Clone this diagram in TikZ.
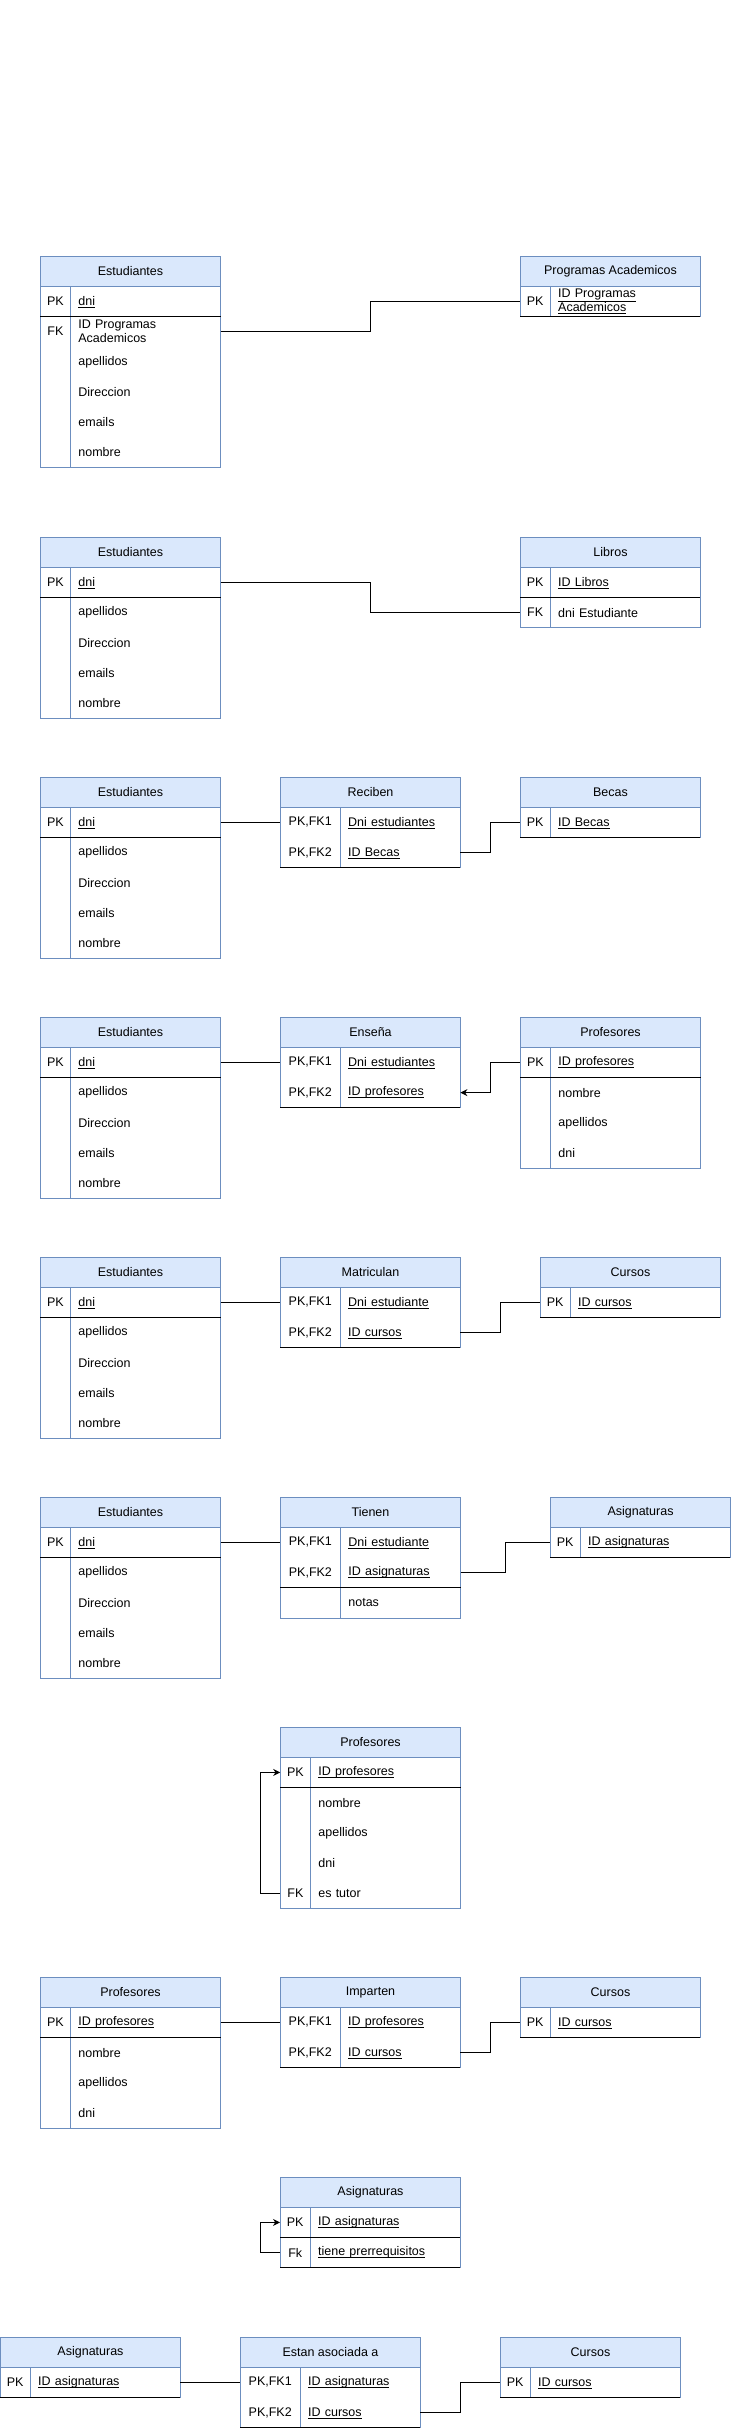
\documentclass[tikz,border=0pt]{standalone}
\usepackage{fontspec}
\newfontfamily\erfamily{Liberation Sans}
\usetikzlibrary{arrows.meta,calc}

\definecolor{TableEdge}{HTML}{6C8EBF}
\definecolor{TableHead}{HTML}{DAE8FC}
\newcommand{\erfont}{\erfamily\fontsize{12.5}{14}\selectfont}
\newcommand{\erul}[1]{\setbox0=\hbox{#1}\rlap{\smash{\rule[-2.4pt]{\wd0}{0.9pt}}}\box0}

\tikzset{
  ertitle/.style={draw=TableEdge,fill=TableHead,line width=1pt,anchor=north west,minimum width=180pt,minimum height=30pt,inner sep=0pt,font=\erfont},
  errows/.style={column sep=0pt,row sep=0pt,inner sep=0pt,anchor=north west,nodes={font=\erfont}},
  erkey/.style={minimum width=#1,minimum height=30pt,inner sep=0pt},
  erkey/.default=30pt,
  ername/.style={text width=#1,minimum height=30pt,inner xsep=8pt,inner ysep=0pt,align=left},
  ername/.default=134pt,
  erframe/.style={draw=TableEdge,line width=1pt},
  erkeyline/.style={draw=black,line width=1pt},
  erlink/.style={draw=black,line width=1pt},
  erref/.style={erlink,-{Stealth[length=7pt,width=7pt]}},
  elbow/.style={to path={-| ($(\tikztostart)!.5!(\tikztotarget)$) |- (\tikztotarget)}},
}

\begin{document}
\begin{tikzpicture}[x=1pt,y=-1pt]
    \useasboundingbox (0,0) rectangle (732,2428);

    \node[ertitle] (estudA) at (40,256) {Estudiantes};
    \matrix[errows] (estudArows) at (40,286) {
      \node[erkey] (estudAk1) {PK}; & \node[ername] (estudAn1) {\erul{dni}}; \\
      \node[erkey] (estudAk2) {FK}; & \node[ername] (estudAn2) {ID Programas\\Academicos}; \\
      & \node[ername] (estudAn3) {apellidos}; \\
      & \node[ername] (estudAn4) {Direccion}; \\
      & \node[ername] (estudAn5) {emails}; \\
      & \node[ername] (estudAn6) {nombre}; \\
    };
    \node[ertitle] (progA) at (520,256) {Programas Academicos};
    \matrix[errows] (progArows) at (520,286) {
      \node[erkey] (progAk1) {PK}; & \node[ername] (progAn1) {\underline{ID Programas}\\\underline{Academicos}}; \\
    };
    \draw[erframe] (estudA.north west) rectangle (estudArows.south east) (estudAk1.north east) -- (estudAk1.north east |- estudArows.south);
    \draw[erframe] (progA.north west) rectangle (progArows.south east) (progAk1.north east) -- (progAk1.north east |- progArows.south);
    \draw[erkeyline] (estudAk1.south west) -- (estudAn1.south east);
    \draw[erkeyline] (progAk1.south west) -- (progAn1.south east);
    \draw[erlink] (estudAn2.east) to[elbow] (progAk1.west);

    \node[ertitle] (estudB) at (40,537) {Estudiantes};
    \matrix[errows] (estudBrows) at (40,567) {
      \node[erkey] (estudBk1) {PK}; & \node[ername] (estudBn1) {\erul{dni}}; \\
      & \node[ername] (estudBn2) {apellidos}; \\
      & \node[ername] (estudBn3) {Direccion}; \\
      & \node[ername] (estudBn4) {emails}; \\
      & \node[ername] (estudBn5) {nombre}; \\
    };
    \node[ertitle] (libroB) at (520,537) {Libros};
    \matrix[errows] (libroBrows) at (520,567) {
      \node[erkey] (libroBk1) {PK}; & \node[ername] (libroBn1) {\erul{ID Libros}}; \\
      \node[erkey] (libroBk2) {FK}; & \node[ername] (libroBn2) {dni Estudiante}; \\
    };
    \draw[erframe] (estudB.north west) rectangle (estudBrows.south east) (estudBk1.north east) -- (estudBk1.north east |- estudBrows.south);
    \draw[erframe] (libroB.north west) rectangle (libroBrows.south east) (libroBk1.north east) -- (libroBk1.north east |- libroBrows.south);
    \draw[erkeyline] (estudBk1.south west) -- (estudBn1.south east);
    \draw[erkeyline] (libroBk1.south west) -- (libroBn1.south east);
    \draw[erlink] (estudBn1.east) to[elbow] (libroBk2.west);

    \node[ertitle] (estudC) at (40,777) {Estudiantes};
    \matrix[errows] (estudCrows) at (40,807) {
      \node[erkey] (estudCk1) {PK}; & \node[ername] (estudCn1) {\erul{dni}}; \\
      & \node[ername] (estudCn2) {apellidos}; \\
      & \node[ername] (estudCn3) {Direccion}; \\
      & \node[ername] (estudCn4) {emails}; \\
      & \node[ername] (estudCn5) {nombre}; \\
    };
    \node[ertitle] (recibC) at (280,777) {Reciben};
    \matrix[errows] (recibCrows) at (280,807) {
      \node[erkey=60pt] (recibCk1) {PK,FK1}; & \node[ername=104pt] (recibCn1) {\erul{Dni estudiantes}}; \\
      \node[erkey=60pt] (recibCk2) {PK,FK2}; & \node[ername=104pt] (recibCn2) {\erul{ID Becas}}; \\
    };
    \node[ertitle] (becaC) at (520,777) {Becas};
    \matrix[errows] (becaCrows) at (520,807) {
      \node[erkey] (becaCk1) {PK}; & \node[ername] (becaCn1) {\erul{ID Becas}}; \\
    };
    \draw[erframe] (estudC.north west) rectangle (estudCrows.south east) (estudCk1.north east) -- (estudCk1.north east |- estudCrows.south);
    \draw[erframe] (recibC.north west) rectangle (recibCrows.south east) (recibCk1.north east) -- (recibCk1.north east |- recibCrows.south);
    \draw[erframe] (becaC.north west) rectangle (becaCrows.south east) (becaCk1.north east) -- (becaCk1.north east |- becaCrows.south);
    \draw[erkeyline] (estudCk1.south west) -- (estudCn1.south east);
    \draw[erkeyline] (recibCk2.south west) -- (recibCn2.south east);
    \draw[erkeyline] (becaCk1.south west) -- (becaCn1.south east);
    \draw[erlink] (estudCn1.east) -- (recibCk1.west);
    \draw[erlink] (recibCn2.east) to[elbow] (becaCk1.west);

    \node[ertitle] (estudD) at (40,1017) {Estudiantes};
    \matrix[errows] (estudDrows) at (40,1047) {
      \node[erkey] (estudDk1) {PK}; & \node[ername] (estudDn1) {\erul{dni}}; \\
      & \node[ername] (estudDn2) {apellidos}; \\
      & \node[ername] (estudDn3) {Direccion}; \\
      & \node[ername] (estudDn4) {emails}; \\
      & \node[ername] (estudDn5) {nombre}; \\
    };
    \node[ertitle] (ensenD) at (280,1017) {Enseña};
    \matrix[errows] (ensenDrows) at (280,1047) {
      \node[erkey=60pt] (ensenDk1) {PK,FK1}; & \node[ername=104pt] (ensenDn1) {\erul{Dni estudiantes}}; \\
      \node[erkey=60pt] (ensenDk2) {PK,FK2}; & \node[ername=104pt] (ensenDn2) {\erul{ID profesores}}; \\
    };
    \node[ertitle] (profD) at (520,1017) {Profesores};
    \matrix[errows] (profDrows) at (520,1047) {
      \node[erkey] (profDk1) {PK}; & \node[ername] (profDn1) {\erul{ID profesores}}; \\
      & \node[ername] (profDn2) {nombre}; \\
      & \node[ername] (profDn3) {apellidos}; \\
      & \node[ername] (profDn4) {dni}; \\
    };
    \draw[erframe] (estudD.north west) rectangle (estudDrows.south east) (estudDk1.north east) -- (estudDk1.north east |- estudDrows.south);
    \draw[erframe] (ensenD.north west) rectangle (ensenDrows.south east) (ensenDk1.north east) -- (ensenDk1.north east |- ensenDrows.south);
    \draw[erframe] (profD.north west) rectangle (profDrows.south east) (profDk1.north east) -- (profDk1.north east |- profDrows.south);
    \draw[erkeyline] (estudDk1.south west) -- (estudDn1.south east);
    \draw[erkeyline] (ensenDk2.south west) -- (ensenDn2.south east);
    \draw[erkeyline] (profDk1.south west) -- (profDn1.south east);
    \draw[erlink] (estudDn1.east) -- (ensenDk1.west);
    \draw[erref] (profDk1.west) to[elbow] (ensenDn2.east);

    \node[ertitle] (estudE) at (40,1257) {Estudiantes};
    \matrix[errows] (estudErows) at (40,1287) {
      \node[erkey] (estudEk1) {PK}; & \node[ername] (estudEn1) {\erul{dni}}; \\
      & \node[ername] (estudEn2) {apellidos}; \\
      & \node[ername] (estudEn3) {Direccion}; \\
      & \node[ername] (estudEn4) {emails}; \\
      & \node[ername] (estudEn5) {nombre}; \\
    };
    \node[ertitle] (matriE) at (280,1257) {Matriculan};
    \matrix[errows] (matriErows) at (280,1287) {
      \node[erkey=60pt] (matriEk1) {PK,FK1}; & \node[ername=104pt] (matriEn1) {\erul{Dni estudiante}}; \\
      \node[erkey=60pt] (matriEk2) {PK,FK2}; & \node[ername=104pt] (matriEn2) {\erul{ID cursos}}; \\
    };
    \node[ertitle] (cursoE) at (540,1257) {Cursos};
    \matrix[errows] (cursoErows) at (540,1287) {
      \node[erkey] (cursoEk1) {PK}; & \node[ername] (cursoEn1) {\erul{ID cursos}}; \\
    };
    \draw[erframe] (estudE.north west) rectangle (estudErows.south east) (estudEk1.north east) -- (estudEk1.north east |- estudErows.south);
    \draw[erframe] (matriE.north west) rectangle (matriErows.south east) (matriEk1.north east) -- (matriEk1.north east |- matriErows.south);
    \draw[erframe] (cursoE.north west) rectangle (cursoErows.south east) (cursoEk1.north east) -- (cursoEk1.north east |- cursoErows.south);
    \draw[erkeyline] (estudEk1.south west) -- (estudEn1.south east);
    \draw[erkeyline] (matriEk2.south west) -- (matriEn2.south east);
    \draw[erkeyline] (cursoEk1.south west) -- (cursoEn1.south east);
    \draw[erlink] (estudEn1.east) -- (matriEk1.west);
    \draw[erlink] (matriEn2.east) to[elbow] (cursoEk1.west);

    \node[ertitle] (estudF) at (40,1497) {Estudiantes};
    \matrix[errows] (estudFrows) at (40,1527) {
      \node[erkey] (estudFk1) {PK}; & \node[ername] (estudFn1) {\erul{dni}}; \\
      & \node[ername] (estudFn2) {apellidos}; \\
      & \node[ername] (estudFn3) {Direccion}; \\
      & \node[ername] (estudFn4) {emails}; \\
      & \node[ername] (estudFn5) {nombre}; \\
    };
    \node[ertitle] (tieneF) at (280,1497) {Tienen};
    \matrix[errows] (tieneFrows) at (280,1527) {
      \node[erkey=60pt] (tieneFk1) {PK,FK1}; & \node[ername=104pt] (tieneFn1) {\erul{Dni estudiante}}; \\
      \node[erkey=60pt] (tieneFk2) {PK,FK2}; & \node[ername=104pt] (tieneFn2) {\erul{ID asignaturas}}; \\
      & \node[ername=104pt] (tieneFn3) {notas}; \\
    };
    \node[ertitle] (asignF) at (550,1497) {Asignaturas};
    \matrix[errows] (asignFrows) at (550,1527) {
      \node[erkey] (asignFk1) {PK}; & \node[ername] (asignFn1) {\erul{ID asignaturas}}; \\
    };
    \draw[erframe] (estudF.north west) rectangle (estudFrows.south east) (estudFk1.north east) -- (estudFk1.north east |- estudFrows.south);
    \draw[erframe] (tieneF.north west) rectangle (tieneFrows.south east) (tieneFk1.north east) -- (tieneFk1.north east |- tieneFrows.south);
    \draw[erframe] (asignF.north west) rectangle (asignFrows.south east) (asignFk1.north east) -- (asignFk1.north east |- asignFrows.south);
    \draw[erkeyline] (estudFk1.south west) -- (estudFn1.south east);
    \draw[erkeyline] (tieneFk2.south west) -- (tieneFn2.south east);
    \draw[erkeyline] (asignFk1.south west) -- (asignFn1.south east);
    \draw[erlink] (estudFn1.east) -- (tieneFk1.west);
    \draw[erlink] (tieneFn2.east) to[elbow] (asignFk1.west);

    \node[ertitle] (profG) at (280,1727) {Profesores};
    \matrix[errows] (profGrows) at (280,1757) {
      \node[erkey] (profGk1) {PK}; & \node[ername] (profGn1) {\erul{ID profesores}}; \\
      & \node[ername] (profGn2) {nombre}; \\
      & \node[ername] (profGn3) {apellidos}; \\
      & \node[ername] (profGn4) {dni}; \\
      \node[erkey] (profGk5) {FK}; & \node[ername] (profGn5) {es tutor}; \\
    };
    \draw[erframe] (profG.north west) rectangle (profGrows.south east) (profGk1.north east) -- (profGk1.north east |- profGrows.south);
    \draw[erkeyline] (profGk1.south west) -- (profGn1.south east);
    \draw[erref] (profGk5.west) -- ++(-20,0) |- (profGk1.west);

    \node[ertitle] (profH) at (40,1977) {Profesores};
    \matrix[errows] (profHrows) at (40,2007) {
      \node[erkey] (profHk1) {PK}; & \node[ername] (profHn1) {\erul{ID profesores}}; \\
      & \node[ername] (profHn2) {nombre}; \\
      & \node[ername] (profHn3) {apellidos}; \\
      & \node[ername] (profHn4) {dni}; \\
    };
    \node[ertitle] (impaH) at (280,1977) {Imparten};
    \matrix[errows] (impaHrows) at (280,2007) {
      \node[erkey=60pt] (impaHk1) {PK,FK1}; & \node[ername=104pt] (impaHn1) {\erul{ID profesores}}; \\
      \node[erkey=60pt] (impaHk2) {PK,FK2}; & \node[ername=104pt] (impaHn2) {\erul{ID cursos}}; \\
    };
    \node[ertitle] (cursoH) at (520,1977) {Cursos};
    \matrix[errows] (cursoHrows) at (520,2007) {
      \node[erkey] (cursoHk1) {PK}; & \node[ername] (cursoHn1) {\erul{ID cursos}}; \\
    };
    \draw[erframe] (profH.north west) rectangle (profHrows.south east) (profHk1.north east) -- (profHk1.north east |- profHrows.south);
    \draw[erframe] (impaH.north west) rectangle (impaHrows.south east) (impaHk1.north east) -- (impaHk1.north east |- impaHrows.south);
    \draw[erframe] (cursoH.north west) rectangle (cursoHrows.south east) (cursoHk1.north east) -- (cursoHk1.north east |- cursoHrows.south);
    \draw[erkeyline] (profHk1.south west) -- (profHn1.south east);
    \draw[erkeyline] (impaHk2.south west) -- (impaHn2.south east);
    \draw[erkeyline] (cursoHk1.south west) -- (cursoHn1.south east);
    \draw[erlink] (profHn1.east) -- (impaHk1.west);
    \draw[erlink] (impaHn2.east) to[elbow] (cursoHk1.west);

    \node[ertitle] (asignI) at (280,2177) {Asignaturas};
    \matrix[errows] (asignIrows) at (280,2207) {
      \node[erkey] (asignIk1) {PK}; & \node[ername] (asignIn1) {\erul{ID asignaturas}}; \\
      \node[erkey] (asignIk2) {Fk}; & \node[ername] (asignIn2) {\erul{tiene prerrequisitos}}; \\
    };
    \draw[erframe] (asignI.north west) rectangle (asignIrows.south east) (asignIk1.north east) -- (asignIk1.north east |- asignIrows.south);
    \draw[erkeyline] (asignIk1.south west) -- (asignIn1.south east);
    \draw[erkeyline] (asignIk2.south west) -- (asignIn2.south east);
    \draw[erref] (asignIk2.west) -- ++(-20,0) |- (asignIk1.west);

    \node[ertitle] (asignJ) at (0,2337) {Asignaturas};
    \matrix[errows] (asignJrows) at (0,2367) {
      \node[erkey] (asignJk1) {PK}; & \node[ername] (asignJn1) {\erul{ID asignaturas}}; \\
    };
    \node[ertitle] (estanJ) at (240,2337) {Estan asociada a};
    \matrix[errows] (estanJrows) at (240,2367) {
      \node[erkey=60pt] (estanJk1) {PK,FK1}; & \node[ername=104pt] (estanJn1) {\erul{ID asignaturas}}; \\
      \node[erkey=60pt] (estanJk2) {PK,FK2}; & \node[ername=104pt] (estanJn2) {\erul{ID cursos}}; \\
    };
    \node[ertitle] (cursoJ) at (500,2337) {Cursos};
    \matrix[errows] (cursoJrows) at (500,2367) {
      \node[erkey] (cursoJk1) {PK}; & \node[ername] (cursoJn1) {\erul{ID cursos}}; \\
    };
    \draw[erframe] (asignJ.north west) rectangle (asignJrows.south east) (asignJk1.north east) -- (asignJk1.north east |- asignJrows.south);
    \draw[erframe] (estanJ.north west) rectangle (estanJrows.south east) (estanJk1.north east) -- (estanJk1.north east |- estanJrows.south);
    \draw[erframe] (cursoJ.north west) rectangle (cursoJrows.south east) (cursoJk1.north east) -- (cursoJk1.north east |- cursoJrows.south);
    \draw[erkeyline] (asignJk1.south west) -- (asignJn1.south east);
    \draw[erkeyline] (estanJk2.south west) -- (estanJn2.south east);
    \draw[erkeyline] (cursoJk1.south west) -- (cursoJn1.south east);
    \draw[erlink] (asignJn1.east) -- (estanJk1.west);
    \draw[erlink] (estanJn2.east) to[elbow] (cursoJk1.west);
\end{tikzpicture}
\end{document}
